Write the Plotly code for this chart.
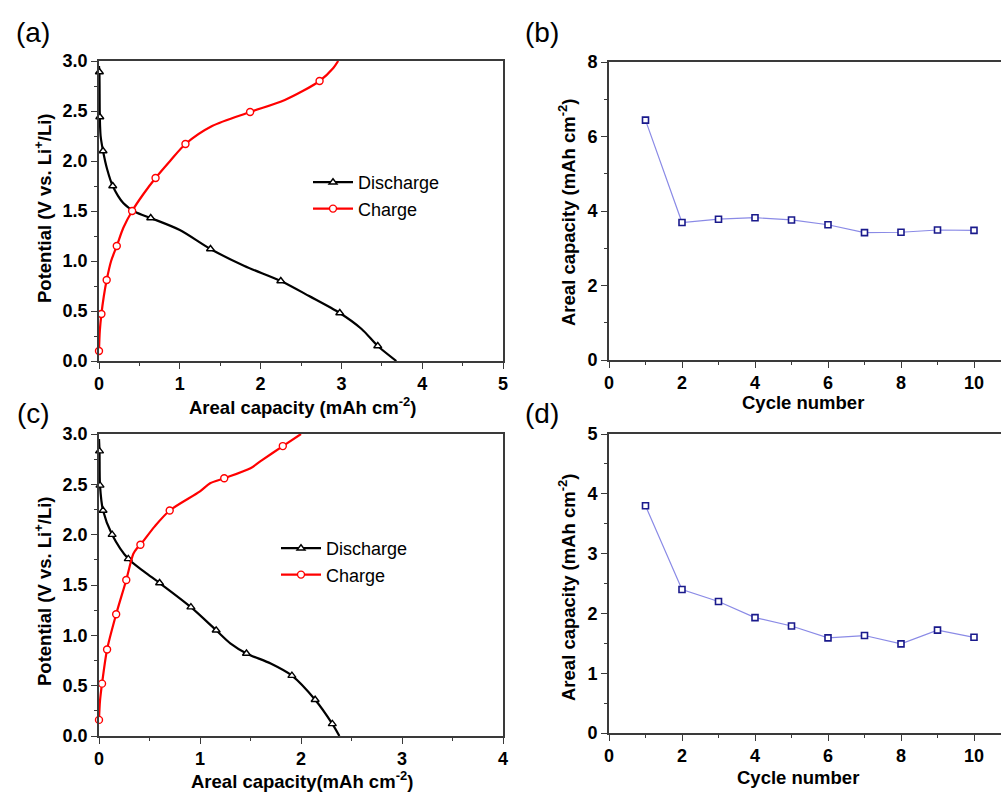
import plotly.graph_objects as go

# ---------------- data ----------------
# Panel (a): voltage profiles
a_dis_curve_x = [0.0, 0.005, 0.01, 0.02, 0.05, 0.10, 0.17, 0.30, 0.45, 0.64, 1.00, 1.38, 1.80, 2.25, 2.60, 2.98, 3.25, 3.45, 3.68]
a_dis_curve_y = [2.95, 2.89, 2.44, 2.25, 2.10, 1.92, 1.75, 1.58, 1.49, 1.43, 1.31, 1.12, 0.95, 0.80, 0.65, 0.48, 0.32, 0.15, 0.00]
a_dis_mark_x = [0.005, 0.01, 0.05, 0.17, 0.64, 1.38, 2.25, 2.98, 3.45]
a_dis_mark_y = [2.89, 2.44, 2.10, 1.75, 1.43, 1.12, 0.80, 0.48, 0.15]

a_chg_curve_x = [0.0, 0.01, 0.03, 0.06, 0.095, 0.15, 0.22, 0.30, 0.41, 0.55, 0.70, 0.88, 1.07, 1.40, 1.87, 2.30, 2.73, 2.90, 2.96]
a_chg_curve_y = [0.10, 0.30, 0.47, 0.65, 0.81, 1.00, 1.15, 1.33, 1.50, 1.67, 1.83, 2.00, 2.17, 2.35, 2.49, 2.61, 2.80, 2.93, 3.00]
a_chg_mark_x = [0.0, 0.03, 0.095, 0.22, 0.41, 0.70, 1.07, 1.87, 2.73]
a_chg_mark_y = [0.10, 0.47, 0.81, 1.15, 1.50, 1.83, 2.17, 2.49, 2.80]

# Panel (c): voltage profiles
c_dis_curve_x = [0.0, 0.005, 0.01, 0.04, 0.13, 0.29, 0.45, 0.60, 0.91, 1.16, 1.30, 1.46, 1.70, 1.91, 2.14, 2.31, 2.38]
c_dis_curve_y = [2.95, 2.83, 2.49, 2.24, 2.00, 1.76, 1.63, 1.52, 1.28, 1.05, 0.92, 0.82, 0.72, 0.60, 0.36, 0.12, 0.00]
c_dis_mark_x = [0.005, 0.01, 0.04, 0.13, 0.29, 0.60, 0.91, 1.16, 1.46, 1.91, 2.14, 2.31]
c_dis_mark_y = [2.83, 2.49, 2.24, 2.00, 1.76, 1.52, 1.28, 1.05, 0.82, 0.60, 0.36, 0.12]

c_chg_curve_x = [0.0, 0.01, 0.03, 0.08, 0.17, 0.27, 0.34, 0.38, 0.41, 0.55, 0.70, 1.00, 1.10, 1.24, 1.50, 1.60, 1.82, 2.00]
c_chg_curve_y = [0.16, 0.35, 0.52, 0.86, 1.21, 1.55, 1.81, 1.87, 1.90, 2.08, 2.24, 2.43, 2.51, 2.56, 2.66, 2.73, 2.88, 3.00]
c_chg_mark_x = [0.0, 0.03, 0.08, 0.17, 0.27, 0.41, 0.70, 1.24, 1.82]
c_chg_mark_y = [0.16, 0.52, 0.86, 1.21, 1.55, 1.90, 2.24, 2.56, 2.88]

# Panels (b), (d): cycling
cycles = [1, 2, 3, 4, 5, 6, 7, 8, 9, 10]
b_capacity = [6.44, 3.69, 3.78, 3.82, 3.76, 3.63, 3.42, 3.43, 3.49, 3.48]
d_capacity = [3.80, 2.40, 2.20, 1.93, 1.79, 1.59, 1.63, 1.49, 1.72, 1.60]

# ---------------- figure ----------------
W, H = 1001, 793
FONT = "Liberation Sans, Arial, sans-serif"
AX = "#3a3a3a"

def px(x):
    return x / W

def py(y):
    return 1 - y / H

fig = go.Figure()

def add_profile(xa, ya, dx, dy, mx, my, name, color, symbol, msize, legend):
    mk = dict(symbol=symbol, size=msize, color="white", line=dict(color=color, width=1.4))
    fig.add_trace(go.Scatter(x=dx, y=dy, mode="lines", xaxis=xa, yaxis=ya,
                             line=dict(color=color, width=2.2, shape="spline", smoothing=0.8),
                             showlegend=False, hoverinfo="skip", cliponaxis=True))
    fig.add_trace(go.Scatter(x=mx, y=my, mode="markers", xaxis=xa, yaxis=ya,
                             marker=mk, showlegend=False, cliponaxis=False))
    fig.add_trace(go.Scatter(x=[None], y=[None], mode="lines+markers", xaxis=xa, yaxis=ya,
                             name=name, legend=legend,
                             line=dict(color=color, width=2.2), marker=mk))

add_profile("x", "y", a_dis_curve_x, a_dis_curve_y, a_dis_mark_x, a_dis_mark_y,
            "Discharge", "black", "triangle-up", 7, "legend")
add_profile("x", "y", a_chg_curve_x, a_chg_curve_y, a_chg_mark_x, a_chg_mark_y,
            "Charge", "#ff0000", "circle", 7, "legend")
add_profile("x3", "y3", c_dis_curve_x, c_dis_curve_y, c_dis_mark_x, c_dis_mark_y,
            "Discharge", "black", "triangle-up", 7, "legend2")
add_profile("x3", "y3", c_chg_curve_x, c_chg_curve_y, c_chg_mark_x, c_chg_mark_y,
            "Charge", "#ff0000", "circle", 7, "legend2")

for xa, ya, vals in (("x2", "y2", b_capacity), ("x4", "y4", d_capacity)):
    fig.add_trace(go.Scatter(x=cycles, y=vals, mode="lines+markers", xaxis=xa, yaxis=ya,
                             line=dict(color="#8a8ae6", width=1.2),
                             marker=dict(symbol="square", size=6, color="white",
                                         line=dict(color="#1a1a8c", width=1.6)),
                             showlegend=False, cliponaxis=False))

tickfont = dict(family=FONT, size=18, color="black", weight="bold")

def axis(domain, rng, dtick, minor_dtick, anchor, fmt=None, mirror=True):
    d = dict(domain=domain, range=rng, dtick=dtick, tick0=0, anchor=anchor,
             showline=True, linecolor=AX, linewidth=1.6, mirror=mirror,
             ticks="outside", ticklen=6, tickwidth=1.4, tickcolor=AX,
             minor=dict(dtick=minor_dtick, tick0=0, ticks="outside", ticklen=3,
                        tickwidth=1.2, tickcolor=AX, showgrid=False),
             showgrid=False, zeroline=False, tickfont=tickfont, fixedrange=True,
             automargin=False)
    if fmt:
        d["tickformat"] = fmt
    return d

xb_right = 10 + (W - 974) / 36.5  # panels (b),(d) are clipped at the right edge

fig.update_layout(
    width=W, height=H, margin=dict(l=0, r=0, t=0, b=0, autoexpand=False),
    paper_bgcolor="white", plot_bgcolor="white",
    xaxis=axis([px(99), px(503)], [0, 5], 1, 0.5, "y"),
    yaxis=axis([py(361), py(61)], [0, 3], 0.5, 0.25, "x", ".1f"),
    xaxis2=axis([px(609), 1.0], [0, xb_right], 2, 1, "y2"),
    yaxis2=axis([py(360), py(62)], [0, 8], 2, 1, "x2", mirror=False),
    xaxis3=axis([px(99), px(503)], [0, 4], 1, 0.5, "y3"),
    yaxis3=axis([py(736), py(434)], [0, 3], 0.5, 0.25, "x3", ".1f"),
    xaxis4=axis([px(609), 1.0], [0, xb_right], 2, 1, "y4"),
    yaxis4=axis([py(733), py(434)], [0, 5], 1, 0.5, "x4", mirror=False),
    legend=dict(x=px(308), y=py(164), xanchor="left", yanchor="top",
                font=dict(family=FONT, size=18, color="black"),
                bgcolor="rgba(0,0,0,0)", tracegroupgap=0, itemwidth=40),
    legend2=dict(x=px(276), y=py(530), xanchor="left", yanchor="top",
                 font=dict(family=FONT, size=18, color="black"),
                 bgcolor="rgba(0,0,0,0)", tracegroupgap=0, itemwidth=40),
)

title_font = dict(family=FONT, size=18.5, color="black", weight="bold")
label_font = dict(family=FONT, size=28, color="black")

annotations = [
    # axis titles
    dict(x=px(302), y=py(406), text="Areal capacity (mAh cm<sup>-2</sup>)", font=title_font),
    dict(x=px(302), y=py(780), text="Areal capacity(mAh cm<sup>-2</sup>)", font=title_font),
    dict(x=px(803), y=py(402), text="Cycle number", font=title_font),
    dict(x=px(798), y=py(777), text="Cycle number", font=title_font),
    dict(x=px(43), y=py(208), text="Potential (V vs. Li<sup>+</sup>/Li)", font=title_font, textangle=-90),
    dict(x=px(43), y=py(591), text="Potential (V vs. Li<sup>+</sup>/Li)", font=title_font, textangle=-90),
    dict(x=px(567), y=py(213), text="Areal capacity (mAh cm<sup>-2</sup>)", font=title_font, textangle=-90),
    dict(x=px(567), y=py(588), text="Areal capacity (mAh cm<sup>-2</sup>)", font=title_font, textangle=-90),
    # panel labels
    dict(x=px(33), y=py(33), text="(a)", font=label_font),
    dict(x=px(542), y=py(33), text="(b)", font=label_font),
    dict(x=px(33), y=py(413), text="(c)", font=label_font),
    dict(x=px(542), y=py(413), text="(d)", font=label_font),
]
for a in annotations:
    a.update(xref="paper", yref="paper", showarrow=False, xanchor="center", yanchor="middle")
fig.update_layout(annotations=annotations)

fig.write_html("out.html", config={"displayModeBar": False},
               post_script="document.body.style.margin='0px';document.body.style.overflow='hidden';")
